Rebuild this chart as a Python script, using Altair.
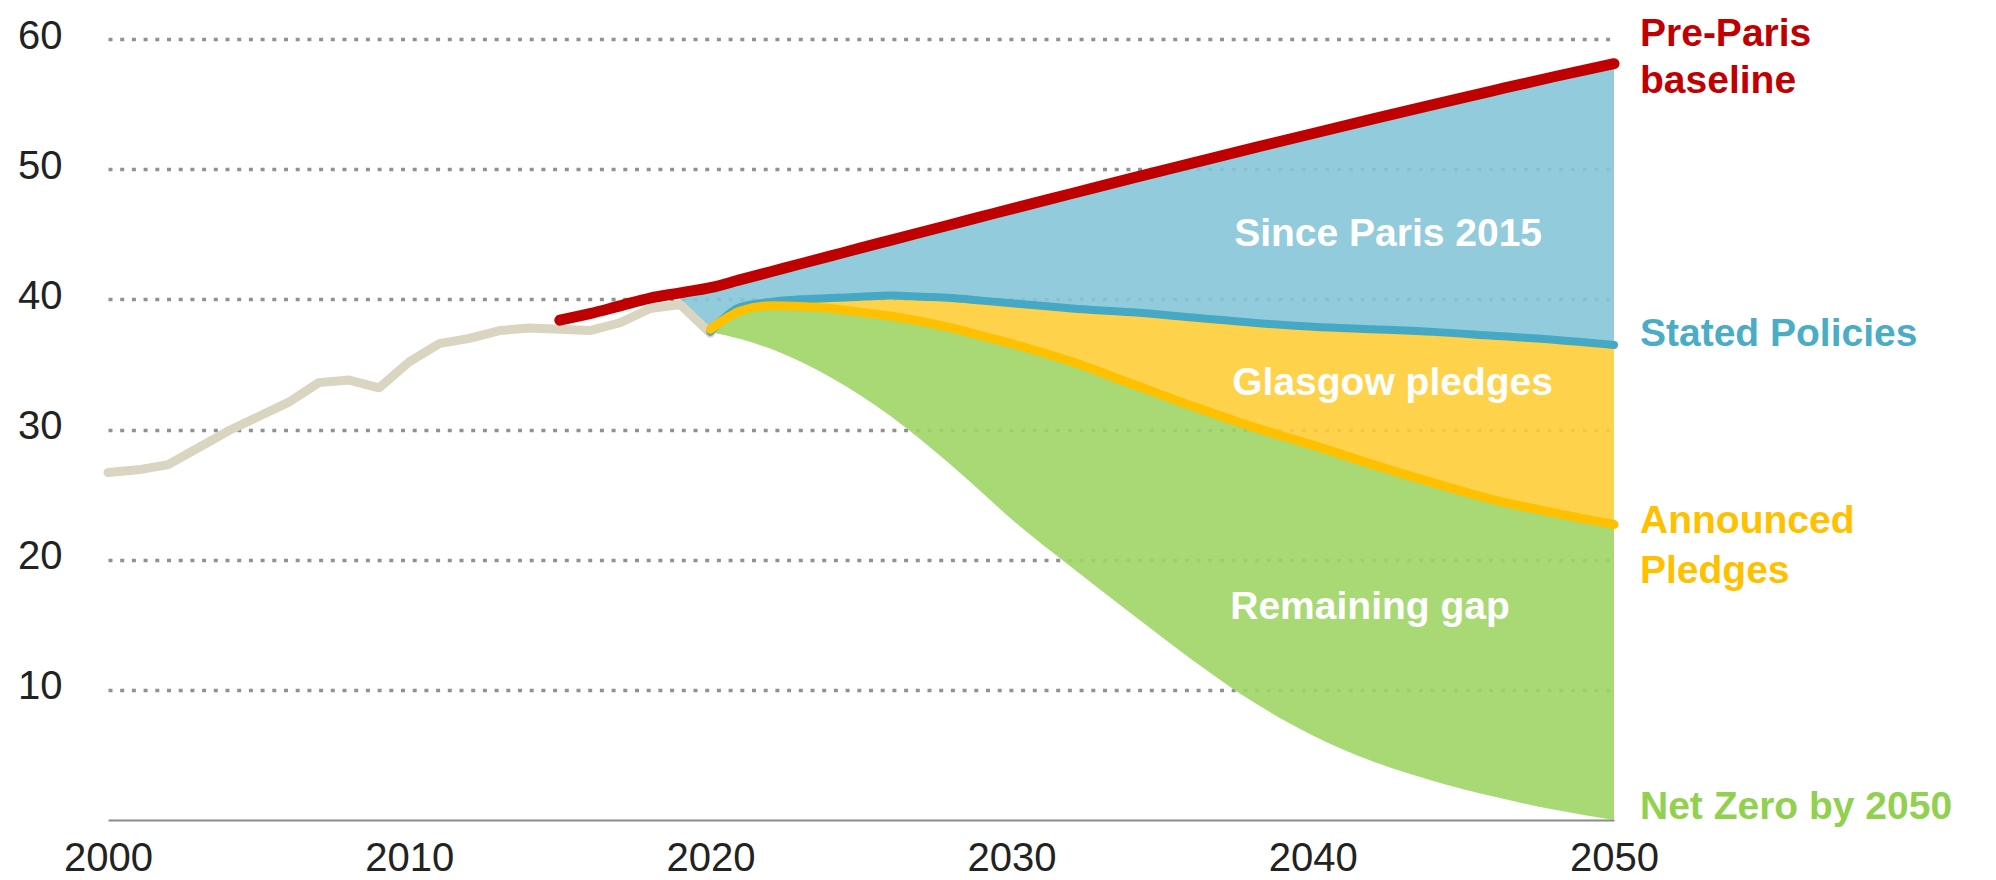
import altair as alt
import pandas as pd

# ---------------- data ----------------
hist_years = list(range(2000, 2021))
hist_vals = [26.7, 26.9, 27.3, 28.6, 29.9, 31.0, 32.1, 33.6, 33.8, 33.2,
             35.2, 36.6, 37.0, 37.6, 37.8, 37.7, 37.6, 38.2, 39.3, 39.6, 37.4]

red_years = [2015, 2016, 2017, 2018, 2019, 2020, 2021, 2022, 2023, 2024, 2025,
             2026, 2027, 2028, 2029, 2030, 2032, 2034, 2036, 2038, 2040, 2042,
             2044, 2046, 2048, 2050]
red_vals = [38.4, 38.9, 39.5, 40.1, 40.5, 40.9, 41.51, 42.12, 42.73, 43.34, 43.95,
            44.55, 45.15, 45.75, 46.35, 46.95, 48.13, 49.31, 50.47, 51.61, 52.74,
            53.86, 54.96, 56.04, 57.1, 58.1]

proj_years = [2020, 2021, 2022, 2023, 2024, 2025, 2026, 2027, 2028, 2029, 2030,
              2032, 2034, 2036, 2038, 2040, 2042, 2044, 2046, 2048, 2050]
stated_vals = [37.5, 39.4, 39.8, 40.0, 40.1, 40.2, 40.3, 40.2, 40.1, 39.9, 39.7,
               39.3, 39.0, 38.6, 38.2, 37.9, 37.7, 37.5, 37.2, 36.9, 36.5]
announced_vals = [37.7, 39.1, 39.5, 39.45, 39.3, 39.0, 38.7, 38.3, 37.8, 37.2, 36.6,
                  35.2, 33.5, 31.8, 30.2, 28.8, 27.3, 25.9, 24.6, 23.6, 22.7]
nze_vals = [37.5, 36.95, 36.2, 35.2, 34.0, 32.6, 31.0, 29.2, 27.25, 25.2, 23.1,
            19.4, 15.8, 12.3, 9.1, 6.5, 4.5, 3.0, 1.8, 0.8, 0.0]

end_labels = ["Pre-Paris", "baseline", "Stated Policies", "Announced", "Pledges",
              "Net Zero by 2050"]
end_label_vals = [60.4, 56.8, 37.3, 23.0, 19.1, 1.0]
end_label_colors = ["#C00000", "#C00000", "#4BACC6", "#FFC000", "#FFC000", "#92D050"]

area_labels = ["Since Paris 2015", "Glasgow pledges", "Remaining gap"]
area_label_years = [2042.5, 2042.65, 2041.9]
area_label_vals = [45.0, 33.6, 16.4]

x_ticks = [2000, 2010, 2020, 2030, 2040, 2050]
y_ticks = [10, 20, 30, 40, 50, 60]

# ---------------- tables ----------------
hist_df = pd.DataFrame({"year": hist_years, "value": hist_vals})
red_df = pd.DataFrame({"year": red_years, "value": red_vals})
red_map = dict(zip(red_years, red_vals))
hist_map = dict(zip(hist_years, hist_vals))

blue_years = [2019] + proj_years
blue_df = pd.DataFrame({
    "year": blue_years,
    "low": [hist_map[2019]] + stated_vals,
    "high": [red_map[y] for y in blue_years],
})
yellow_df = pd.DataFrame({"year": proj_years, "low": announced_vals, "high": stated_vals})
green_df = pd.DataFrame({"year": proj_years, "low": nze_vals, "high": announced_vals})
stated_df = pd.DataFrame({"year": proj_years, "value": stated_vals})
announced_df = pd.DataFrame({"year": proj_years, "value": announced_vals})
end_df = pd.DataFrame({"text": end_labels, "year": [2050] * len(end_labels),
                       "value": end_label_vals, "color": end_label_colors})
inner_df = pd.DataFrame({"text": area_labels, "year": area_label_years,
                         "value": area_label_vals})

FONT = "Liberation Sans"

xscale = alt.Scale(domain=[2000, 2050], nice=False, zero=False)
yscale = alt.Scale(domain=[0, 60], nice=False, zero=True)

xaxis = alt.Axis(values=x_ticks, format="d", title=None, grid=False, ticks=False,
                 tickSize=0, domain=True, domainColor="#8a8a8a", domainWidth=2,
                 labelFont=FONT, labelFontSize=40, labelColor="#222222",
                 labelPadding=18, labelFlush=False, labelOverlap=False, labelBound=False)
yaxis = alt.Axis(values=y_ticks, title=None, grid=True, gridDash=[4, 7.7],
                 gridWidth=3.5, gridColor="#919191", gridCap="butt", ticks=False,
                 tickSize=0, domain=False, labelFont=FONT, labelFontSize=40,
                 labelColor="#222222", labelPadding=46, labelOffset=-3)

X = alt.X("year:Q", scale=xscale, axis=xaxis)


def Yv(field):
    return alt.Y(f"{field}:Q", scale=yscale, axis=yaxis)


def band(df, color):
    return alt.Chart(df).mark_area(color=color, opacity=0.9, interpolate="monotone").encode(
        x=X, y=Yv("low"), y2="high:Q")


blue_area = band(blue_df, "#86C5D8")
yellow_area = band(yellow_df, "#FFCD38")
green_area = band(green_df, "#9ED566")

hist_line = alt.Chart(hist_df).mark_line(color="#D9D5C1", strokeWidth=9,
                                         strokeJoin="round", strokeCap="round").encode(
    x=X, y=Yv("value"))
stated_line = alt.Chart(stated_df).mark_line(color="#45A8C4", strokeWidth=8,
                                             interpolate="monotone", strokeCap="round").encode(
    x=X, y=Yv("value"))
announced_line = alt.Chart(announced_df).mark_line(color="#FFC000", strokeWidth=9,
                                                   interpolate="monotone", strokeCap="round").encode(
    x=X, y=Yv("value"))
red_line = alt.Chart(red_df).mark_line(color="#C00000", strokeWidth=11,
                                       interpolate="monotone",
                                       strokeCap="round", strokeJoin="round").encode(
    x=X, y=Yv("value"))

end_text = alt.Chart(end_df).mark_text(font=FONT, fontSize=39, fontWeight="bold",
                                       align="left", baseline="middle", dx=26).encode(
    x=X, y=Yv("value"), text="text:N", color=alt.Color("color:N", scale=None))
inner_text = alt.Chart(inner_df).mark_text(font=FONT, fontSize=39, fontWeight="bold",
                                           align="center", baseline="middle",
                                           color="white").encode(
    x=X, y=Yv("value"), text="text:N")

chart = alt.layer(
    blue_area, yellow_area, green_area,
    hist_line, stated_line, announced_line, red_line,
    inner_text, end_text,
).properties(
    width=1506, height=781,
    autosize=alt.AutoSizeParams(type="none"),
    padding={"left": 100, "top": 31, "right": 361, "bottom": 66},
).configure_view(stroke=None)

chart.save("out.html", embed_options={"renderer": "svg", "actions": False})
